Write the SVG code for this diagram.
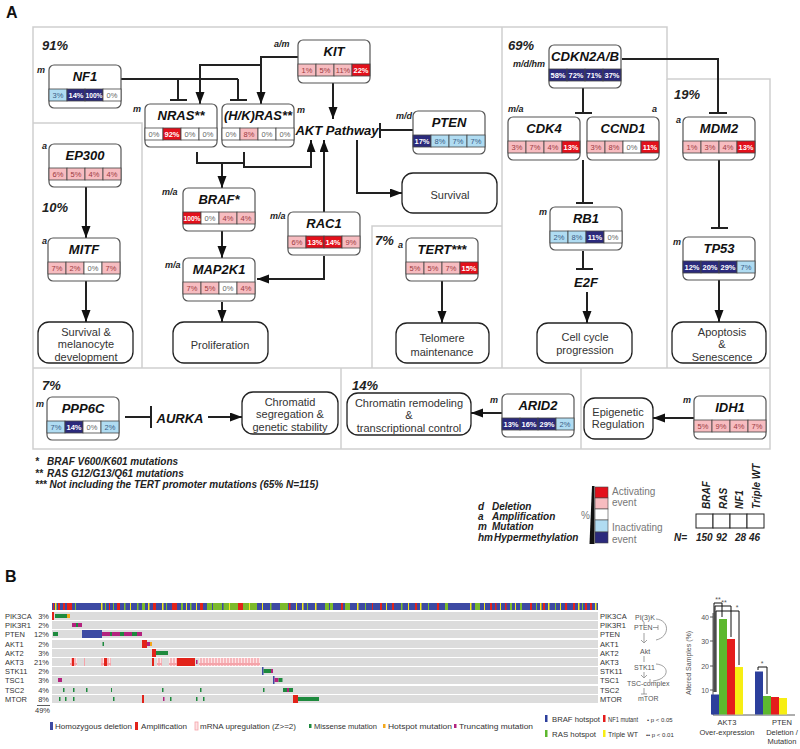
<svg xmlns="http://www.w3.org/2000/svg" width="800" height="749" viewBox="0 0 800 749">
<defs>
<style>
text{font-family:"Liberation Sans",Arial,sans-serif}
.panel{fill:none;stroke:#cfcfcf;stroke-width:1.5}
.nb{fill:#fff;stroke:#555;stroke-width:1.2}
.gt{font-size:13px;font-weight:bold;font-style:italic;text-anchor:middle;fill:#111}
.lb{font-size:9px;font-weight:bold;font-style:italic;fill:#222}
.pc{font-size:13px;font-weight:bold;font-style:italic;fill:#222}
.cR{fill:#e3101b;stroke:#444;stroke-width:.8}
.cP{fill:#f7bcc0;stroke:#444;stroke-width:.8}
.cW{fill:#fff;stroke:#444;stroke-width:.8}
.cL{fill:#b0dcf2;stroke:#444;stroke-width:.8}
.cN{fill:#2b2a7c;stroke:#444;stroke-width:.8}
.ct{font-size:7.5px;text-anchor:middle}
.tw{fill:#fff;font-weight:bold}
.tp{fill:#9c3a40}
.tg{fill:#666}
.tb{fill:#3b5d86}
.pb{fill:#fff;stroke:#222;stroke-width:1.3}
.px{font-size:11px;fill:#333;text-anchor:middle}
.ln{fill:none;stroke:#222;stroke-width:2}
.ar{fill:none;stroke:#222;stroke-width:2;marker-end:url(#ah)}
.ft{font-size:10px;font-weight:bold;font-style:italic;fill:#222}
.gl{font-size:10px;fill:#777}
.ob{font-size:7.5px;fill:#333}
.row{fill:#dcdcdc}
.sm{font-size:7px;fill:#555}
.bl{fill:none;stroke:#111;stroke-width:1}
</style>
<marker id="ah" markerUnits="userSpaceOnUse" markerWidth="13" markerHeight="10" refX="12" refY="4.5" orient="auto">
<path d="M0,0 L12,4.5 L0,9 z" fill="#111"/>
</marker>
<pattern id="up" patternUnits="userSpaceOnUse" width="3" height="8">
<rect x="0" y="0" width="3" height="8" fill="#f4a3a9"/>
<rect x="0.7" y="1" width="1.6" height="6" fill="#fde2e4"/>
</pattern>
</defs>
<rect width="800" height="749" fill="#fff"/>

<text x="6" y="18" font-size="16" font-weight="bold" fill="#111">A</text>
<text x="5" y="582" font-size="16" font-weight="bold" fill="#111">B</text>

<g id="panels">
<path class="panel" d="M33,27 H667 V79 H770 V449 H33 Z"/>
<path class="panel" d="M502,27 V368 M667,79 V368 M33,368 H770 M33,123 H142 V368 M372,368 V226 H502 M341,368 V449 M581,368 V449"/>
</g>

<g id="percent-labels">
<text class="pc" x="42" y="50">91%</text>
<text class="pc" x="42" y="212">10%</text>
<text class="pc" x="508" y="50">69%</text>
<text class="pc" x="674" y="99">19%</text>
<text class="pc" x="375" y="245">7%</text>
<text class="pc" x="42" y="390">7%</text>
<text class="pc" x="352" y="390">14%</text>
</g>

<g id="connectors">
<path class="ln" d="M121,79 H238 M178,79 V100 M238,79 V100 M170,100 H187 M230,100 H247"/>
<path class="ar" d="M298,57 H261 V104"/>
<path class="ar" d="M261,65 H200 V104"/>
<path class="ar" d="M333,83 V119"/>
<path class="ln" d="M197,152 V163 H244 V152"/>
<path class="ar" d="M222,163 V188"/>
<path class="ar" d="M244,163 V167 H311 V140"/>
<path class="ar" d="M324,212 V140"/>
<path class="ar" d="M324,256 V279 H257"/>
<path class="ar" d="M222,230 V258"/>
<path class="ar" d="M222,302 V322"/>
<path class="ln" d="M413,130 H381 M380,123 V138"/>
<path class="ar" d="M357,140 V193 H402"/>
<path class="ar" d="M86,187 V238"/>
<path class="ar" d="M86,280 V322"/>
<path class="ar" d="M442,281 V323"/>
<path class="ln" d="M622,59 H718 V113 M709,113 H727"/>
<path class="ln" d="M583,88 V113 M575,113 H592"/>
<path class="ln" d="M583,160 V203 M576,203 H593"/>
<path class="ln" d="M583,251 V269 M576,269 H593"/>
<path class="ar" d="M587,292 V323"/>
<path class="ln" d="M719,160 V228 M711,228 H728"/>
<path class="ar" d="M719,280 V322"/>
<path class="ln" d="M125,417 H151 M151,406 V428"/>
<path class="ar" d="M208,417 H242"/>
<path class="ar" d="M502,413 H471"/>
<path class="ar" d="M694,418 H653"/>
</g>

<g id="AKT-pathway"><text x="337" y="135" font-size="13" font-weight="bold" font-style="italic" text-anchor="middle" fill="#111">AKT Pathway</text></g>
<g id="E2F"><text x="586" y="287" font-size="13" font-weight="bold" font-style="italic" text-anchor="middle" fill="#111">E2F</text></g>
<g id="AURKA"><text x="180" y="423" font-size="13" font-weight="bold" font-style="italic" text-anchor="middle" fill="#111">AURKA</text></g>

<g id="NF1">
<text class="lb" x="37" y="73">m</text>
<rect class="nb" x="49" y="65" width="72" height="43" rx="5"/>
<text class="gt" x="85" y="81">NF1</text>
<rect class="cL" x="49" y="89" width="18" height="12"/><rect class="cN" x="67" y="89" width="18" height="12"/><rect class="cN" x="85" y="89" width="18" height="12"/><rect class="cW" x="103" y="89" width="18" height="12"/>
<text class="ct tb" x="58" y="98">3%</text><text class="ct tw" x="76" y="98">14%</text><text class="ct tw" x="94" y="98" textLength="17" lengthAdjust="spacingAndGlyphs">100%</text><text class="ct tg" x="112" y="98">0%</text>
</g>

<g id="NRAS">
<text class="lb" x="133" y="112">m</text>
<rect class="nb" x="145" y="104" width="72" height="43" rx="5"/>
<text class="gt" x="181" y="120">NRAS**</text>
<rect class="cW" x="145" y="128" width="18" height="12"/><rect class="cR" x="163" y="128" width="18" height="12"/><rect class="cW" x="181" y="128" width="18" height="12"/><rect class="cW" x="199" y="128" width="18" height="12"/>
<text class="ct tg" x="154" y="137">0%</text><text class="ct tw" x="172" y="137">92%</text><text class="ct tg" x="190" y="137">0%</text><text class="ct tg" x="208" y="137">0%</text>
</g>

<g id="HKRAS">
<text class="lb" x="297" y="113">m</text>
<rect class="nb" x="222" y="104" width="72" height="43" rx="5"/>
<text class="gt" x="258" y="120" textLength="68" lengthAdjust="spacingAndGlyphs">(H/K)RAS**</text>
<rect class="cW" x="222" y="128" width="18" height="12"/><rect class="cP" x="240" y="128" width="18" height="12"/><rect class="cW" x="258" y="128" width="18" height="12"/><rect class="cW" x="276" y="128" width="18" height="12"/>
<text class="ct tg" x="231" y="137">0%</text><text class="ct tp" x="249" y="137">8%</text><text class="ct tg" x="267" y="137">0%</text><text class="ct tg" x="285" y="137">0%</text>
</g>

<g id="KIT">
<text class="lb" x="274" y="47">a/m</text>
<rect class="nb" x="298" y="40" width="72" height="43" rx="5"/>
<text class="gt" x="334" y="56">KIT</text>
<rect class="cP" x="298" y="64" width="18" height="12"/><rect class="cP" x="316" y="64" width="18" height="12"/><rect class="cP" x="334" y="64" width="18" height="12"/><rect class="cR" x="352" y="64" width="18" height="12"/>
<text class="ct tp" x="307" y="73">1%</text><text class="ct tp" x="325" y="73">5%</text><text class="ct tp" x="343" y="73">11%</text><text class="ct tw" x="361" y="73">22%</text>
</g>

<g id="PTEN">
<text class="lb" x="396" y="119">m/d</text>
<rect class="nb" x="413" y="111" width="72" height="43" rx="5"/>
<text class="gt" x="449" y="127">PTEN</text>
<rect class="cN" x="413" y="135" width="18" height="12"/><rect class="cL" x="431" y="135" width="18" height="12"/><rect class="cL" x="449" y="135" width="18" height="12"/><rect class="cL" x="467" y="135" width="18" height="12"/>
<text class="ct tw" x="422" y="144">17%</text><text class="ct tb" x="440" y="144">8%</text><text class="ct tb" x="458" y="144">7%</text><text class="ct tb" x="476" y="144">7%</text>
</g>

<g id="BRAF">
<text class="lb" x="162" y="195">m/a</text>
<rect class="nb" x="183" y="188" width="72" height="43" rx="5"/>
<text class="gt" x="219" y="204">BRAF*</text>
<rect class="cR" x="183" y="212" width="18" height="12"/><rect class="cW" x="201" y="212" width="18" height="12"/><rect class="cP" x="219" y="212" width="18" height="12"/><rect class="cP" x="237" y="212" width="18" height="12"/>
<text class="ct tw" x="192" y="221" textLength="17" lengthAdjust="spacingAndGlyphs">100%</text><text class="ct tg" x="210" y="221">0%</text><text class="ct tp" x="228" y="221">4%</text><text class="ct tp" x="246" y="221">4%</text>
</g>

<g id="MAP2K1">
<text class="lb" x="165" y="268">m/a</text>
<rect class="nb" x="183" y="258" width="72" height="43" rx="5"/>
<text class="gt" x="219" y="274">MAP2K1</text>
<rect class="cP" x="183" y="282" width="18" height="12"/><rect class="cP" x="201" y="282" width="18" height="12"/><rect class="cW" x="219" y="282" width="18" height="12"/><rect class="cP" x="237" y="282" width="18" height="12"/>
<text class="ct tp" x="192" y="291">7%</text><text class="ct tp" x="210" y="291">5%</text><text class="ct tg" x="228" y="291">0%</text><text class="ct tp" x="246" y="291">4%</text>
</g>

<g id="RAC1">
<text class="lb" x="270" y="219">m/a</text>
<rect class="nb" x="288" y="212" width="72" height="43" rx="5"/>
<text class="gt" x="324" y="228">RAC1</text>
<rect class="cP" x="288" y="236" width="18" height="12"/><rect class="cR" x="306" y="236" width="18" height="12"/><rect class="cR" x="324" y="236" width="18" height="12"/><rect class="cP" x="342" y="236" width="18" height="12"/>
<text class="ct tp" x="297" y="245">6%</text><text class="ct tw" x="315" y="245">13%</text><text class="ct tw" x="333" y="245">14%</text><text class="ct tp" x="351" y="245">9%</text>
</g>

<g id="TERT">
<text class="lb" x="398" y="248">a</text>
<rect class="nb" x="406" y="238" width="72" height="43" rx="5"/>
<text class="gt" x="442" y="254">TERT***</text>
<rect class="cP" x="406" y="262" width="18" height="12"/><rect class="cP" x="424" y="262" width="18" height="12"/><rect class="cP" x="442" y="262" width="18" height="12"/><rect class="cR" x="460" y="262" width="18" height="12"/>
<text class="ct tp" x="415" y="271">5%</text><text class="ct tp" x="433" y="271">5%</text><text class="ct tp" x="451" y="271">7%</text><text class="ct tw" x="469" y="271">15%</text>
</g>

<g id="EP300">
<text class="lb" x="42" y="149">a</text>
<rect class="nb" x="49" y="144" width="72" height="43" rx="5"/>
<text class="gt" x="85" y="160">EP300</text>
<rect class="cP" x="49" y="168" width="18" height="12"/><rect class="cP" x="67" y="168" width="18" height="12"/><rect class="cP" x="85" y="168" width="18" height="12"/><rect class="cP" x="103" y="168" width="18" height="12"/>
<text class="ct tp" x="58" y="177">6%</text><text class="ct tp" x="76" y="177">5%</text><text class="ct tp" x="94" y="177">4%</text><text class="ct tp" x="112" y="177">4%</text>
</g>

<g id="MITF">
<text class="lb" x="42" y="244">a</text>
<rect class="nb" x="48" y="238" width="72" height="43" rx="5"/>
<text class="gt" x="84" y="254">MITF</text>
<rect class="cP" x="48" y="262" width="18" height="12"/><rect class="cP" x="66" y="262" width="18" height="12"/><rect class="cW" x="84" y="262" width="18" height="12"/><rect class="cP" x="102" y="262" width="18" height="12"/>
<text class="ct tp" x="57" y="271">7%</text><text class="ct tp" x="75" y="271">2%</text><text class="ct tg" x="93" y="271">0%</text><text class="ct tp" x="111" y="271">7%</text>
</g>

<g id="CDKN2AB">
<text class="lb" x="513" y="67">m/d/hm</text>
<rect class="nb" x="549" y="45" width="72" height="43" rx="5"/>
<text class="gt" x="585" y="61" textLength="68" lengthAdjust="spacingAndGlyphs">CDKN2A/B</text>
<rect class="cN" x="549" y="69" width="18" height="12"/><rect class="cN" x="567" y="69" width="18" height="12"/><rect class="cN" x="585" y="69" width="18" height="12"/><rect class="cN" x="603" y="69" width="18" height="12"/>
<text class="ct tw" x="558" y="78">58%</text><text class="ct tw" x="576" y="78">72%</text><text class="ct tw" x="594" y="78">71%</text><text class="ct tw" x="612" y="78">37%</text>
</g>

<g id="CDK4">
<text class="lb" x="508" y="112">m/a</text>
<rect class="nb" x="508" y="117" width="72" height="43" rx="5"/>
<text class="gt" x="544" y="133">CDK4</text>
<rect class="cP" x="508" y="141" width="18" height="12"/><rect class="cP" x="526" y="141" width="18" height="12"/><rect class="cP" x="544" y="141" width="18" height="12"/><rect class="cR" x="562" y="141" width="18" height="12"/>
<text class="ct tp" x="517" y="150">3%</text><text class="ct tp" x="535" y="150">7%</text><text class="ct tp" x="553" y="150">4%</text><text class="ct tw" x="571" y="150">13%</text>
</g>

<g id="CCND1">
<text class="lb" x="652" y="112">a</text>
<rect class="nb" x="587" y="117" width="72" height="43" rx="5"/>
<text class="gt" x="623" y="133">CCND1</text>
<rect class="cP" x="587" y="141" width="18" height="12"/><rect class="cP" x="605" y="141" width="18" height="12"/><rect class="cW" x="623" y="141" width="18" height="12"/><rect class="cR" x="641" y="141" width="18" height="12"/>
<text class="ct tp" x="596" y="150">3%</text><text class="ct tp" x="614" y="150">8%</text><text class="ct tg" x="632" y="150">0%</text><text class="ct tw" x="650" y="150">11%</text>
</g>

<g id="RB1">
<text class="lb" x="539" y="215">m</text>
<rect class="nb" x="550" y="207" width="72" height="43" rx="5"/>
<text class="gt" x="586" y="223">RB1</text>
<rect class="cL" x="550" y="231" width="18" height="12"/><rect class="cL" x="568" y="231" width="18" height="12"/><rect class="cN" x="586" y="231" width="18" height="12"/><rect class="cW" x="604" y="231" width="18" height="12"/>
<text class="ct tb" x="559" y="240">2%</text><text class="ct tb" x="577" y="240">8%</text><text class="ct tw" x="595" y="240">11%</text><text class="ct tg" x="613" y="240">0%</text>
</g>

<g id="MDM2">
<text class="lb" x="676" y="123">a</text>
<rect class="nb" x="683" y="117" width="72" height="43" rx="5"/>
<text class="gt" x="719" y="133">MDM2</text>
<rect class="cP" x="683" y="141" width="18" height="12"/><rect class="cP" x="701" y="141" width="18" height="12"/><rect class="cP" x="719" y="141" width="18" height="12"/><rect class="cR" x="737" y="141" width="18" height="12"/>
<text class="ct tp" x="692" y="150">1%</text><text class="ct tp" x="710" y="150">3%</text><text class="ct tp" x="728" y="150">4%</text><text class="ct tw" x="746" y="150">13%</text>
</g>

<g id="TP53">
<text class="lb" x="673" y="245">m</text>
<rect class="nb" x="683" y="237" width="72" height="43" rx="5"/>
<text class="gt" x="719" y="253">TP53</text>
<rect class="cN" x="683" y="261" width="18" height="12"/><rect class="cN" x="701" y="261" width="18" height="12"/><rect class="cN" x="719" y="261" width="18" height="12"/><rect class="cL" x="737" y="261" width="18" height="12"/>
<text class="ct tw" x="692" y="270">12%</text><text class="ct tw" x="710" y="270">20%</text><text class="ct tw" x="728" y="270">29%</text><text class="ct tb" x="746" y="270">7%</text>
</g>

<g id="PPP6C">
<text class="lb" x="36" y="407">m</text>
<rect class="nb" x="47" y="397" width="72" height="43" rx="5"/>
<text class="gt" x="83" y="413">PPP6C</text>
<rect class="cL" x="47" y="421" width="18" height="12"/><rect class="cN" x="65" y="421" width="18" height="12"/><rect class="cW" x="83" y="421" width="18" height="12"/><rect class="cL" x="101" y="421" width="18" height="12"/>
<text class="ct tb" x="56" y="430">7%</text><text class="ct tw" x="74" y="430">14%</text><text class="ct tg" x="92" y="430">0%</text><text class="ct tb" x="110" y="430">2%</text>
</g>

<g id="ARID2">
<text class="lb" x="490" y="403">m</text>
<rect class="nb" x="502" y="394" width="72" height="43" rx="5"/>
<text class="gt" x="538" y="410">ARID2</text>
<rect class="cN" x="502" y="418" width="18" height="12"/><rect class="cN" x="520" y="418" width="18" height="12"/><rect class="cN" x="538" y="418" width="18" height="12"/><rect class="cL" x="556" y="418" width="18" height="12"/>
<text class="ct tw" x="511" y="427">13%</text><text class="ct tw" x="529" y="427">16%</text><text class="ct tw" x="547" y="427">29%</text><text class="ct tb" x="565" y="427">2%</text>
</g>

<g id="IDH1">
<text class="lb" x="683" y="403">m</text>
<rect class="nb" x="694" y="396" width="72" height="43" rx="5"/>
<text class="gt" x="730" y="412">IDH1</text>
<rect class="cP" x="694" y="420" width="18" height="12"/><rect class="cP" x="712" y="420" width="18" height="12"/><rect class="cP" x="730" y="420" width="18" height="12"/><rect class="cP" x="748" y="420" width="18" height="12"/>
<text class="ct tp" x="703" y="429">5%</text><text class="ct tp" x="721" y="429">9%</text><text class="ct tp" x="739" y="429">4%</text><text class="ct tp" x="757" y="429">7%</text>
</g>

<g id="Survival"><rect class="pb" x="402" y="173" width="95" height="40" rx="11"/><text class="px" x="450" y="199">Survival</text></g>
<g id="SurvivalMelanocyte"><rect class="pb" x="38" y="322" width="95" height="41" rx="11"/><text class="px" x="86" y="336">Survival &amp;</text><text class="px" x="86" y="348">melanocyte</text><text class="px" x="86" y="361">development</text></g>
<g id="Proliferation"><rect class="pb" x="173" y="322" width="95" height="41" rx="11"/><text class="px" x="220" y="349">Proliferation</text></g>
<g id="Telomere"><rect class="pb" x="396" y="323" width="93" height="40" rx="11"/><text class="px" x="442" y="342">Telomere</text><text class="px" x="442" y="356">maintenance</text></g>
<g id="CellCycle"><rect class="pb" x="537" y="323" width="95" height="40" rx="11"/><text class="px" x="585" y="341">Cell cycle</text><text class="px" x="585" y="354">progression</text></g>
<g id="Apoptosis"><rect class="pb" x="672" y="322" width="94" height="41" rx="11"/><text class="px" x="722" y="336">Apoptosis</text><text class="px" x="722" y="348">&amp;</text><text class="px" x="722" y="361">Senescence</text></g>
<g id="Chromatid"><rect class="pb" x="242" y="392" width="96" height="42" rx="11"/><text class="px" x="290" y="406">Chromatid</text><text class="px" x="290" y="418">segregation &amp;</text><text class="px" x="290" y="431">genetic stability</text></g>
<g id="Chromatin"><rect class="pb" x="347" y="393" width="124" height="42" rx="11"/><text class="px" x="409" y="407">Chromatin remodeling</text><text class="px" x="409" y="419">&amp;</text><text class="px" x="409" y="432">transcriptional control</text></g>
<g id="Epigenetic"><rect class="pb" x="584" y="398" width="69" height="41" rx="11"/><text class="px" x="618" y="416">Epigenetic</text><text class="px" x="618" y="428">Regulation</text></g>

<g id="footnotes">
<text class="ft" x="35" y="465">*</text><text class="ft" x="47" y="465">BRAF V600/K601 mutations</text>
<text class="ft" x="35" y="477">**</text><text class="ft" x="47" y="477">RAS G12/G13/Q61 mutations</text>
<text class="ft" x="35" y="488">*** Not including the TERT promoter mutations (65% N=115)</text>
</g>

<g id="legend-codes">
<text class="ft" x="478" y="510">d</text><text class="ft" x="492" y="510">Deletion</text>
<text class="ft" x="478" y="520">a</text><text class="ft" x="492" y="520">Amplification</text>
<text class="ft" x="478" y="530">m</text><text class="ft" x="492" y="530">Mutation</text>
<text class="ft" x="478" y="541">hm</text><text class="ft" x="494" y="541">Hypermethylation</text>
</g>

<g id="legend-scale">
<text class="gl" x="581" y="519">%</text>
<polygon points="592,486 594.5,486 594.5,544 589.5,544" fill="#111"/>
<rect x="595" y="487" width="13" height="11" fill="#e3101b" stroke="#444" stroke-width=".6"/>
<rect x="595" y="498" width="13" height="11" fill="#f7bcc0" stroke="#444" stroke-width=".6"/>
<rect x="595" y="509" width="13" height="11" fill="#fff" stroke="#444" stroke-width=".6"/>
<rect x="595" y="520" width="13" height="12" fill="#b0dcf2" stroke="#444" stroke-width=".6"/>
<rect x="595" y="532" width="13" height="11" fill="#2b2a7c" stroke="#444" stroke-width=".6"/>
<text class="gl" x="612" y="495">Activating</text><text class="gl" x="612" y="506">event</text>
<text class="gl" x="612" y="531">Inactivating</text><text class="gl" x="612" y="543">event</text>
</g>

<g id="legend-groups">
<rect x="696" y="514" width="17" height="14" fill="#fff" stroke="#222" stroke-width="1"/>
<rect x="713" y="514" width="17" height="14" fill="#fff" stroke="#222" stroke-width="1"/>
<rect x="730" y="514" width="17" height="14" fill="#fff" stroke="#222" stroke-width="1"/>
<rect x="747" y="514" width="17" height="14" fill="#fff" stroke="#222" stroke-width="1"/>
<text class="ft" font-size="11" transform="translate(709.5,509) rotate(-90)">BRAF</text>
<text class="ft" font-size="11" transform="translate(726.5,509) rotate(-90)">RAS</text>
<text class="ft" font-size="11" transform="translate(743,509) rotate(-90)">NF1</text>
<text class="ft" font-size="11" transform="translate(760,509) rotate(-90)">Triple WT</text>
<text class="ft" font-size="11" x="674" y="541">N=</text>
<text class="ft" font-size="11" x="696" y="541">150</text>
<text class="ft" font-size="11" x="716" y="541">92</text>
<text class="ft" font-size="11" x="735" y="541">28</text>
<text class="ft" font-size="11" x="749" y="541">46</text>
</g>

<g id="oncoprint">
<rect x="52" y="603" width="546" height="7" fill="#3d4aa3"/>
<g>
<rect x="53" y="603" width="1" height="7" fill="#e2231a"/><rect x="55" y="603" width="1.5" height="7" fill="#f2e81a"/><rect x="58" y="603" width="2" height="7" fill="#e2231a"/><rect x="63" y="603" width="2" height="7" fill="#e2231a"/><rect x="67" y="603" width="5" height="7" fill="#e2231a"/><rect x="75" y="603" width="1" height="7" fill="#7cba2b"/><rect x="101" y="603" width="1.5" height="7" fill="#f2e81a"/><rect x="105" y="603" width="1" height="7" fill="#7cba2b"/><rect x="109" y="603" width="1" height="7" fill="#e2231a"/><rect x="113" y="603" width="1" height="7" fill="#7cba2b"/><rect x="117" y="603" width="3" height="7" fill="#e2231a"/><rect x="124" y="603" width="1.5" height="7" fill="#7cba2b"/><rect x="130" y="603" width="1" height="7" fill="#f2e81a"/><rect x="137" y="603" width="1.5" height="7" fill="#7cba2b"/><rect x="142" y="603" width="3" height="7" fill="#7cba2b"/><rect x="148" y="603" width="1.5" height="7" fill="#f2e81a"/><rect x="153" y="603" width="3" height="7" fill="#e2231a"/><rect x="162" y="603" width="1.5" height="7" fill="#f2e81a"/><rect x="166" y="603" width="1" height="7" fill="#7cba2b"/><rect x="172" y="603" width="5" height="7" fill="#e2231a"/><rect x="181" y="603" width="2" height="7" fill="#7cba2b"/><rect x="186" y="603" width="1" height="7" fill="#f2e81a"/><rect x="190" y="603" width="1.5" height="7" fill="#7cba2b"/><rect x="196" y="603" width="1" height="7" fill="#f2e81a"/><rect x="200" y="603" width="3" height="7" fill="#e2231a"/><rect x="207" y="603" width="31" height="7" fill="#7cba2b"/><rect x="212" y="603" width="1" height="7" fill="#3d4aa3"/><rect x="222" y="603" width="1.5" height="7" fill="#3d4aa3"/><rect x="229" y="603" width="1" height="7" fill="#f2e81a"/><rect x="238" y="603" width="5" height="7" fill="#e2231a"/><rect x="243" y="603" width="14" height="7" fill="#7cba2b"/><rect x="249" y="603" width="1" height="7" fill="#f2e81a"/><rect x="262" y="603" width="1" height="7" fill="#f2e81a"/><rect x="270" y="603" width="1.5" height="7" fill="#7cba2b"/><rect x="280" y="603" width="8" height="7" fill="#7cba2b"/><rect x="289" y="603" width="1.5" height="7" fill="#e2231a"/><rect x="296" y="603" width="1" height="7" fill="#f2e81a"/><rect x="302" y="603" width="1.5" height="7" fill="#f2e81a"/><rect x="307" y="603" width="1" height="7" fill="#7cba2b"/><rect x="315" y="603" width="1.5" height="7" fill="#f2e81a"/><rect x="325" y="603" width="8" height="7" fill="#7cba2b"/><rect x="329" y="603" width="1" height="7" fill="#3d4aa3"/><rect x="341" y="603" width="2" height="7" fill="#e2231a"/><rect x="345" y="603" width="5" height="7" fill="#7cba2b"/><rect x="357" y="603" width="1.5" height="7" fill="#f2e81a"/><rect x="365" y="603" width="1" height="7" fill="#7cba2b"/><rect x="372" y="603" width="1" height="7" fill="#e2231a"/><rect x="380" y="603" width="2" height="7" fill="#e2231a"/><rect x="386" y="603" width="1" height="7" fill="#f2e81a"/><rect x="392" y="603" width="2" height="7" fill="#e2231a"/><rect x="401" y="603" width="1.5" height="7" fill="#7cba2b"/><rect x="408" y="603" width="1" height="7" fill="#f2e81a"/><rect x="415" y="603" width="2" height="7" fill="#e2231a"/><rect x="420" y="603" width="1.5" height="7" fill="#f2e81a"/><rect x="428" y="603" width="1" height="7" fill="#7cba2b"/><rect x="437" y="603" width="2" height="7" fill="#e2231a"/><rect x="445" y="603" width="3" height="7" fill="#7cba2b"/><rect x="470" y="603" width="1.5" height="7" fill="#f2e81a"/><rect x="475" y="603" width="5" height="7" fill="#7cba2b"/><rect x="484" y="603" width="1" height="7" fill="#f2e81a"/><rect x="490" y="603" width="2" height="7" fill="#e2231a"/><rect x="495" y="603" width="1.5" height="7" fill="#e2231a"/><rect x="500" y="603" width="1" height="7" fill="#f2e81a"/><rect x="505" y="603" width="1.5" height="7" fill="#e2231a"/><rect x="510" y="603" width="2" height="7" fill="#7cba2b"/><rect x="515" y="603" width="1" height="7" fill="#f2e81a"/><rect x="520" y="603" width="2" height="7" fill="#7cba2b"/><rect x="530" y="603" width="2" height="7" fill="#e2231a"/><rect x="536" y="603" width="1" height="7" fill="#7cba2b"/><rect x="540" y="603" width="1.5" height="7" fill="#f2e81a"/><rect x="543" y="603" width="2" height="7" fill="#e2231a"/><rect x="548" y="603" width="1.5" height="7" fill="#f2e81a"/><rect x="555" y="603" width="1" height="7" fill="#7cba2b"/><rect x="560" y="603" width="1" height="7" fill="#f2e81a"/><rect x="565" y="603" width="2" height="7" fill="#e2231a"/><rect x="573" y="603" width="2" height="7" fill="#e2231a"/><rect x="578" y="603" width="1.5" height="7" fill="#f2e81a"/><rect x="582" y="603" width="1" height="7" fill="#7cba2b"/><rect x="585" y="603" width="2" height="7" fill="#e2231a"/><rect x="590" y="603" width="2" height="7" fill="#e2231a"/><rect x="595" y="603" width="1.5" height="7" fill="#f2e81a"/>
</g>
<g>
<rect class="row" x="52" y="612" width="546" height="8"/>
<rect class="row" x="52" y="621" width="546" height="8"/>
<rect class="row" x="52" y="630" width="546" height="8"/>
<rect class="row" x="52" y="640" width="546" height="8"/>
<rect class="row" x="52" y="649" width="546" height="8"/>
<rect class="row" x="52" y="658" width="546" height="8"/>
<rect class="row" x="52" y="667" width="546" height="8"/>
<rect class="row" x="52" y="676" width="546" height="8"/>
<rect class="row" x="52" y="686" width="546" height="8"/>
<rect class="row" x="52" y="695" width="546" height="8"/>
</g>
<g>
<rect x="52" y="612" width="2" height="8" fill="#e2231a"/><rect x="55" y="614" width="12" height="4" fill="#1e8a3e"/><rect x="67" y="614" width="3" height="4" fill="#f3a81c"/>
<rect x="72" y="623" width="10" height="4" fill="#b3227e"/><rect x="76" y="623" width="2" height="4" fill="#1e8a3e"/>
<rect x="53" y="632" width="5" height="4" fill="#1e8a3e"/><rect x="82" y="630" width="20" height="8" fill="#3d4aa3"/><rect x="102" y="632" width="40" height="4" fill="#b3227e"/><rect x="110" y="632" width="2" height="4" fill="#1e8a3e"/><rect x="120" y="632" width="4" height="4" fill="#1e8a3e"/><rect x="132" y="632" width="5" height="4" fill="#1e8a3e"/>
<rect x="102.5" y="642" width="1.5" height="4" fill="#1e8a3e"/><rect x="142" y="640" width="5" height="8" fill="#e2231a"/><rect x="147" y="642" width="3" height="4" fill="#b3227e"/><rect x="150" y="642" width="2" height="4" fill="#f3a81c"/>
<rect x="152" y="649" width="4" height="8" fill="#e2231a"/><rect x="156" y="651" width="12" height="4" fill="#1e8a3e"/>
<rect x="70" y="658" width="7" height="8" fill="url(#up)"/><rect x="72" y="658" width="2" height="8" fill="#e2231a"/><rect x="84" y="658" width="1" height="8" fill="#f4a3a9"/><rect x="101" y="658" width="10" height="8" fill="url(#up)"/><rect x="104" y="658" width="3" height="8" fill="#e2231a"/><rect x="152" y="658" width="2" height="8" fill="#e2231a"/><rect x="157" y="658" width="5" height="8" fill="url(#up)"/><rect x="169" y="658" width="8" height="8" fill="url(#up)"/><rect x="177" y="658" width="18" height="8" fill="#e2231a"/><rect x="196" y="660" width="1.5" height="4" fill="#b3227e"/><rect x="199" y="658" width="61" height="8" fill="url(#up)"/>
<rect x="262" y="667" width="1.5" height="8" fill="#3d4aa3"/><rect x="263.5" y="669" width="8" height="4" fill="#1e8a3e"/><rect x="271" y="669" width="2" height="4" fill="#b3227e"/>
<rect x="58" y="678" width="4" height="4" fill="#b3227e"/><rect x="273" y="676" width="1.5" height="8" fill="#3d4aa3"/><rect x="274.5" y="678" width="4" height="4" fill="#b3227e"/><rect x="278.5" y="678" width="4" height="4" fill="#1e8a3e"/>
<rect x="63" y="688" width="1.5" height="4" fill="#1e8a3e"/><rect x="73" y="688" width="1.5" height="4" fill="#1e8a3e"/><rect x="86" y="688" width="1.5" height="4" fill="#1e8a3e"/><rect x="111" y="688" width="1" height="4" fill="#1e8a3e"/><rect x="162" y="688" width="1.5" height="4" fill="#1e8a3e"/><rect x="200" y="688" width="1.5" height="4" fill="#1e8a3e"/><rect x="263" y="688" width="1.5" height="4" fill="#1e8a3e"/><rect x="283" y="688" width="10" height="4" fill="#1e8a3e"/><rect x="287" y="688" width="2" height="4" fill="#b3227e"/>
<rect x="59" y="697" width="1.5" height="4" fill="#1e8a3e"/><rect x="65" y="697" width="1.5" height="4" fill="#1e8a3e"/><rect x="73" y="697" width="1.5" height="4" fill="#1e8a3e"/><rect x="113" y="697" width="1.5" height="4" fill="#1e8a3e"/><rect x="142" y="695" width="2" height="8" fill="#e2231a"/><rect x="163" y="697" width="1.5" height="4" fill="#b3227e"/><rect x="170" y="697" width="1.5" height="4" fill="#1e8a3e"/><rect x="196" y="697" width="1.5" height="4" fill="#1e8a3e"/><rect x="203" y="697" width="1.5" height="4" fill="#1e8a3e"/><rect x="293" y="695" width="5" height="8" fill="#e2231a"/><rect x="298" y="697" width="21" height="4" fill="#1e8a3e"/>
</g>
<g class="ob">
<text x="5" y="619">PIK3CA</text><text x="5" y="628">PIK3R1</text><text x="5" y="637">PTEN</text><text x="5" y="647">AKT1</text><text x="5" y="656">AKT2</text><text x="5" y="665">AKT3</text><text x="5" y="674">STK11</text><text x="5" y="683">TSC1</text><text x="5" y="693">TSC2</text><text x="5" y="702">MTOR</text>
</g>
<g class="ob" text-anchor="end" font-size="7">
<text x="49" y="619">3%</text><text x="49" y="628">2%</text><text x="49" y="637">12%</text><text x="49" y="647">2%</text><text x="49" y="656">3%</text><text x="49" y="665">21%</text><text x="49" y="674">2%</text><text x="49" y="683">3%</text><text x="49" y="693">4%</text><text x="49" y="702">8%</text>
<text x="50" y="713">49%</text>
</g>
<line x1="37" y1="705.5" x2="50" y2="705.5" stroke="#333" stroke-width=".8"/>
<g class="ob">
<text x="600" y="619">PIK3CA</text><text x="600" y="628">PIK3R1</text><text x="600" y="637">PTEN</text><text x="600" y="647">AKT1</text><text x="600" y="656">AKT2</text><text x="600" y="665">AKT3</text><text x="600" y="674">STK11</text><text x="600" y="683">TSC1</text><text x="600" y="693">TSC2</text><text x="600" y="702">MTOR</text>
</g>
</g>

<g id="pathway-mini">
<text class="sm" x="635" y="620">PI(3)K</text>
<text class="sm" x="634" y="630">PTEN</text>
<text class="sm" x="640" y="654">Akt</text>
<text class="sm" x="634" y="670">STK11</text>
<text class="sm" x="627" y="686">TSC-complex</text>
<text class="sm" x="638" y="701">mTOR</text>
<path d="M644,622 V625 M644,633 V642 M641,640 L644,643 L647,640 M644,656 V662 M644,672 V677 M641,675 L644,678 L647,675 M644,688 V694 M641,694 H647 M653,627.5 H658 M658,625 V630 M656,619 C670,620 670,637 656,640 M656,664 C670,665 670,679 653,681 M650,679 V683" fill="none" stroke="#777" stroke-width=".7"/>
</g>

<g id="barchart">
<text class="sm" font-size="7.5" transform="translate(691,663) rotate(-90)" text-anchor="middle">Altered Samples (%)</text>
<path d="M713,613 V715 H795 M710,617 H713 M710,641 H713 M710,666 H713 M710,690 H713" fill="none" stroke="#333" stroke-width=".8"/>
<g class="sm" text-anchor="end" font-size="7"><text x="709" y="619.5">40</text><text x="709" y="643.5">30</text><text x="709" y="668.5">20</text><text x="709" y="692.5">10</text></g>
<rect x="711" y="694.5" width="8" height="20" fill="#2c3f9c"/>
<rect x="719" y="619" width="8" height="95.5" fill="#5db82e"/>
<rect x="727" y="639" width="8" height="75.5" fill="#e51c1c"/>
<rect x="735" y="667" width="8" height="47.5" fill="#f7ee13"/>
<rect x="755" y="671.5" width="8" height="43" fill="#2c3f9c"/>
<rect x="763" y="696" width="8" height="18.5" fill="#5db82e"/>
<rect x="771" y="697" width="8" height="17.5" fill="#e51c1c"/>
<rect x="779" y="698" width="8" height="16.5" fill="#f7ee13"/>
<path class="bl" d="M714,692 V603 H722 V617 M715,692 V606 H731 V637 M716,692 V611 H739 V665 M758,670 V667 H767 V694" stroke-width="1.2"/>
<g class="sm" font-size="5.5" text-anchor="middle"><text x="718" y="602">**</text><text x="724" y="605">**</text><text x="737" y="610">*</text><text x="762" y="666">*</text></g>
<g class="ob" text-anchor="middle" font-size="8"><text x="727" y="725">AKT3</text><text x="727" y="735">Over-expression</text><text x="782" y="725">PTEN</text><text x="782" y="735">Deletion /</text><text x="782" y="744">Mutation</text></g>
</g>

<g id="legend-oncoprint" class="ob" font-size="8">
<rect x="50" y="722" width="3" height="8" fill="#3d4aa3"/><text x="55" y="729" textLength="77" lengthAdjust="spacingAndGlyphs">Homozygous deletion</text>
<rect x="135" y="722" width="3" height="8" fill="#e2231a"/><text x="141" y="729" textLength="46" lengthAdjust="spacingAndGlyphs">Amplification</text>
<rect x="195" y="722" width="3" height="8" fill="#fde2e4" stroke="#f4a3a9" stroke-width=".8"/><text x="200" y="729" textLength="96" lengthAdjust="spacingAndGlyphs">mRNA upregulation (Z&gt;=2)</text>
<rect x="309" y="724" width="2.5" height="4" fill="#1e8a3e"/><text x="314" y="729" textLength="63" lengthAdjust="spacingAndGlyphs">Missense mutation</text>
<rect x="383" y="724" width="2.5" height="4" fill="#f3a81c"/><text x="388" y="729" textLength="64" lengthAdjust="spacingAndGlyphs">Hotspot mutation</text>
<rect x="454" y="724" width="2.5" height="4" fill="#b3227e"/><text x="459" y="729" textLength="74" lengthAdjust="spacingAndGlyphs">Truncating mutation</text>
</g>

<g id="legend-bars" class="ob" font-size="8">
<rect x="545" y="715" width="2.5" height="7" fill="#2c3f9c"/><text x="552" y="722" textLength="48" lengthAdjust="spacingAndGlyphs">BRAF hotspot</text>
<rect x="545" y="730" width="2.5" height="7" fill="#5db82e"/><text x="552" y="737" textLength="44" lengthAdjust="spacingAndGlyphs">RAS hotspot</text>
<rect x="603" y="715" width="2.5" height="7" fill="#e51c1c"/><text x="608" y="722" textLength="30" lengthAdjust="spacingAndGlyphs">NF1 mutant</text>
<rect x="603" y="730" width="2.5" height="7" fill="#f7ee13"/><text x="608" y="737" textLength="30" lengthAdjust="spacingAndGlyphs">Triple WT</text>
<text x="647" y="722" font-size="6">•  p &lt; 0.05</text>
<text x="646" y="737" font-size="6">••  p &lt; 0.01</text>
</g>
</svg>
